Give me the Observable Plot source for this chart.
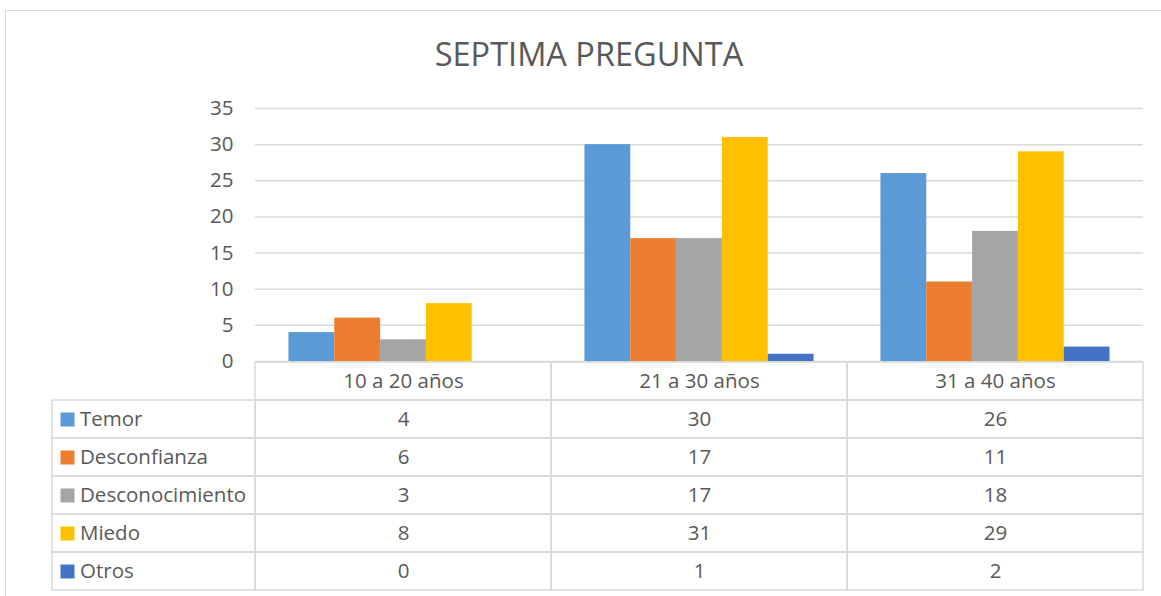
<!DOCTYPE html>
<html><head><meta charset="utf-8">
<script src="https://cdn.jsdelivr.net/npm/d3@7"></script>
<script src="https://cdn.jsdelivr.net/npm/@observablehq/plot@0.6"></script>
<style>
body{margin:0;background:#fff;}
#wrap{position:relative;width:1161px;height:596px;overflow:hidden;font-family:"Open Sans",sans-serif;color:#595959;background:#fff;}
#frame{position:absolute;left:5px;top:10px;width:1200px;height:700px;border:1.5px solid #d9d9d9;box-sizing:border-box;}
#title{position:absolute;left:0;top:31px;width:1178px;text-align:center;font-size:32.5px;line-height:normal;white-space:nowrap;}
.p{position:absolute;left:0;}
</style></head><body>
<div id="wrap">
  <div id="frame"></div>
  <div id="title">SEPTIMA PREGUNTA</div>
  <div id="bars" class="p" style="top:80px"></div>
  <div id="table" class="p" style="top:355px"></div>
  <div id="legend" class="p" style="top:355px"></div>
</div>
<script>
// ---- data ----
const groups = ["10 a 20 años", "21 a 30 años", "31 a 40 años"];
const seriesNames = ["Temor", "Desconfianza", "Desconocimiento", "Miedo", "Otros"];
const temor = [4, 30, 26];
const desconfianza = [6, 17, 11];
const desconocimiento = [3, 17, 18];
const miedo = [8, 31, 29];
const otros = [0, 1, 2];
const colors = ["#5B9BD5", "#ED7D31", "#A5A5A5", "#FFC000", "#4472C4"];
const yTicks = [0, 5, 10, 15, 20, 25, 30, 35];

const seriesValues = [temor, desconfianza, desconocimiento, miedo, otros];
const rows = [];
seriesNames.forEach((s, i) => groups.forEach((g, j) => rows.push({group: g, series: s, value: seriesValues[i][j]})));

const textColor = "#595959";
const gridColor = "#d9d9d9";
const font = '"Open Sans", sans-serif';
const fs = "20.5px";
const headerKey = "__header";
const rowDomain = [headerKey, ...seriesNames];
const colorScale = {domain: seriesNames, range: colors};

// ---- bar chart ----
const bars = Plot.plot({
  width: 1161, height: 290,
  marginLeft: 255, marginRight: 18, marginTop: 28, marginBottom: 9,
  style: {color: textColor, fontFamily: font, fontSize: fs, background: "none", overflow: "visible"},
  fx: {domain: groups, padding: 0, round: false, axis: null},
  x: {domain: seriesNames, paddingInner: 0, paddingOuter: 0.73, round: false, axis: null},
  y: {domain: [0, 35], ticks: yTicks, tickSize: 0, tickPadding: 22, label: null, tickFormat: d => String(d)},
  color: colorScale,
  marks: [
    Plot.ruleY(yTicks, {stroke: gridColor, strokeWidth: 1.5}),
    Plot.barY(rows, {fx: "group", x: "series", y: "value", fill: "series"})
  ]
});
document.getElementById("bars").appendChild(bars);

// ---- data table ----
const cells = [];
groups.forEach(g => rowDomain.forEach(r => cells.push({group: g, row: r})));
const tableText = rows.map(d => ({group: d.group, row: d.series, text: String(d.value)}));
groups.forEach(g => tableText.push({group: g, row: headerKey, text: g}));

const table = Plot.plot({
  width: 1161, height: 240,
  marginLeft: 255, marginRight: 18, marginTop: 6, marginBottom: 5,
  style: {color: textColor, fontFamily: font, fontSize: fs, background: "none", overflow: "visible"},
  x: {domain: groups, padding: 0, round: false, axis: null},
  y: {domain: rowDomain, padding: 0, axis: null},
  marks: [
    Plot.cell(cells, {x: "group", y: "row", fill: "none", stroke: gridColor, strokeWidth: 1.5, inset: 0}),
    Plot.text(tableText, {x: "group", y: "row", text: "text", fill: textColor})
  ]
});
document.getElementById("table").appendChild(table);

// ---- legend column ----
const legend = Plot.plot({
  width: 255, height: 240,
  marginLeft: 52, marginRight: 0, marginTop: 6, marginBottom: 5,
  style: {color: textColor, fontFamily: font, fontSize: fs, background: "none", overflow: "visible"},
  y: {domain: rowDomain, padding: 0, axis: null},
  color: colorScale,
  marks: [
    Plot.cell(seriesNames, {y: d => d, fill: "none", stroke: gridColor, strokeWidth: 1.5, inset: 0}),
    Plot.dot(seriesNames, {y: d => d, frameAnchor: "left", dx: 15, symbol: "square", r: 7.9, fill: d => d, stroke: null}),
    Plot.text(seriesNames, {y: d => d, text: d => d, frameAnchor: "left", textAnchor: "start", dx: 27.5, fill: textColor})
  ]
});
document.getElementById("legend").appendChild(legend);
</script>
</body></html>
